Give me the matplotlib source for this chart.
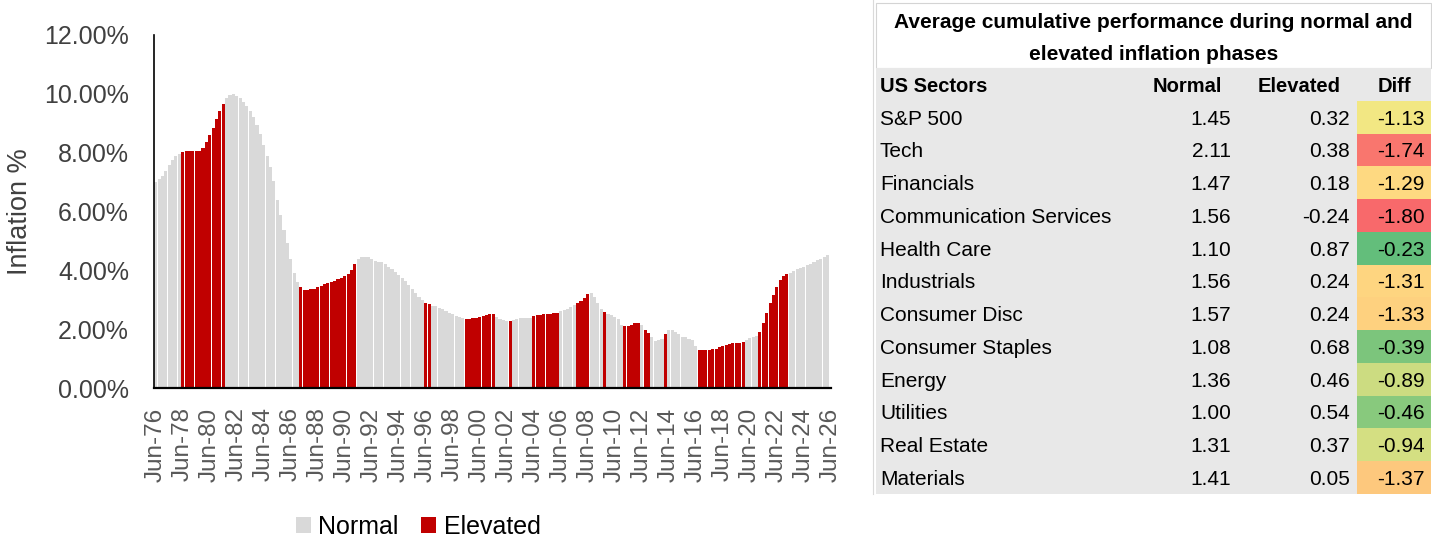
import numpy as np
import matplotlib
matplotlib.use("Agg")
import matplotlib.pyplot as plt
from matplotlib.patches import Rectangle, Patch

plt.rcParams['font.family'] = ['Liberation Sans', 'DejaVu Sans']

# ---------------- data ----------------
# quarterly inflation (%), Jun-76 .. Mar-26, one row per year (Jun, Sep, Dec, Mar)
inflation = [
    7.00, 7.10, 7.20, 7.38,   # 1976
    7.58, 7.75, 7.88, 7.97,   # 1977
    8.02, 8.04, 8.04, 8.05,   # 1978
    8.05, 8.06, 8.15, 8.35,   # 1979
    8.60, 8.85, 9.15, 9.40,   # 1980
    9.65, 9.85, 9.95, 9.98,   # 1981
    9.92, 9.85, 9.72, 9.58,   # 1982
    9.40, 9.20, 8.95, 8.65,   # 1983
    8.25, 7.90, 7.50, 7.05,   # 1984
    6.40, 5.88, 5.38, 4.92,   # 1985
    4.38, 3.92, 3.60, 3.42,   # 1986
    3.34, 3.33, 3.35, 3.36,   # 1987
    3.42, 3.47, 3.52, 3.56,   # 1988
    3.60, 3.65, 3.70, 3.75,   # 1989
    3.80, 3.88, 4.02, 4.20,   # 1990
    4.38, 4.44, 4.46, 4.45,   # 1991
    4.38, 4.33, 4.30, 4.27,   # 1992
    4.20, 4.13, 4.05, 3.95,   # 1993
    3.85, 3.75, 3.63, 3.50,   # 1994
    3.35, 3.22, 3.10, 2.98,   # 1995
    2.88, 2.86, 2.80, 2.78,   # 1996
    2.73, 2.68, 2.63, 2.56,   # 1997
    2.50, 2.44, 2.40, 2.37,   # 1998
    2.35, 2.35, 2.37, 2.39,   # 1999
    2.42, 2.45, 2.48, 2.50,   # 2000
    2.50, 2.40, 2.35, 2.30,   # 2001
    2.27, 2.28, 2.30, 2.35,   # 2002
    2.37, 2.37, 2.37, 2.38,   # 2003
    2.45, 2.48, 2.49, 2.50,   # 2004
    2.50, 2.52, 2.54, 2.56,   # 2005
    2.63, 2.66, 2.70, 2.76,   # 2006
    2.82, 2.90, 2.97, 3.05,   # 2007
    3.18, 3.22, 3.10, 2.88,   # 2008
    2.70, 2.60, 2.50, 2.48,   # 2009
    2.42, 2.33, 2.15, 2.10,   # 2010
    2.11, 2.15, 2.20, 2.22,   # 2011
    2.15, 1.98, 1.86, 1.72,   # 2012
    1.60, 1.63, 1.68, 1.82,   # 2013
    1.97, 1.97, 1.90, 1.83,   # 2014
    1.75, 1.72, 1.68, 1.62,   # 2015
    1.42, 1.30, 1.29, 1.29,   # 2016
    1.30, 1.32, 1.34, 1.38,   # 2017
    1.43, 1.47, 1.50, 1.52,   # 2018
    1.52, 1.52, 1.55, 1.63,   # 2019
    1.70, 1.74, 1.77, 1.90,   # 2020
    2.20, 2.55, 2.90, 3.15,   # 2021
    3.45, 3.68, 3.80, 3.87,   # 2022
    3.92, 3.98, 4.03, 4.08,   # 2023
    4.13, 4.17, 4.20, 4.27,   # 2024
    4.35, 4.40, 4.47, 4.53,   # 2025
]

# regime per quarter (N = normal, E = elevated), one string per year
regime_by_year = [
    "NNNN", "NNNN", "EEEE", "EEEE", "EEEE", "ENNN", "NNNN", "NNNN", "NNNN", "NNNN",  # 76-85
    "NNNE", "EEEE", "EEEE", "EEEE", "EEEE", "NNNN", "NNNN", "NNNN", "NNNN", "NNNN",  # 86-95
    "EENN", "NNNN", "NNNN", "EEEE", "EEEE", "ENNN", "NENN", "NNNN", "EEEE", "EEEE",  # 96-05
    "NNNN", "NEEE", "ENNN", "NENN", "NNNE", "EEEE", "NEEN", "NNNE", "NNNN", "NNNN",  # 06-15
    "NEEE", "EEEE", "EEEE", "EEEN", "NNNE", "EEEE", "EEEE", "NNNN", "NNNN", "NNNN",  # 16-25
]

xtick_labels = ["Jun-%02d" % (y % 100) for y in range(1976, 2027, 2)]
series_names = ["Normal", "Elevated"]

# table
table_title = ["Average cumulative performance during normal and",
               "elevated inflation phases"]
table_header = ["US Sectors", "Normal", "Elevated", "Diff"]
sectors = ["S&P 500", "Tech", "Financials", "Communication Services", "Health Care",
           "Industrials", "Consumer Disc", "Consumer Staples", "Energy", "Utilities",
           "Real Estate", "Materials"]
normal_perf = [1.45, 2.11, 1.47, 1.56, 1.10, 1.56, 1.57, 1.08, 1.36, 1.00, 1.31, 1.41]
elevated_perf = [0.32, 0.38, 0.18, -0.24, 0.87, 0.24, 0.24, 0.68, 0.46, 0.54, 0.37, 0.05]
diff_perf = [-1.13, -1.74, -1.29, -1.80, -0.23, -1.31, -1.33, -0.39, -0.89, -0.46, -0.94, -1.37]

# ---------------- figure ----------------
W, H = 1432, 539
fig = plt.figure(figsize=(W / 100, H / 100), dpi=100)
fig.patch.set_facecolor('white')

GREY = '#D9D9D9'
RED = '#C00000'

ax = fig.add_axes([154 / W, (H - 388) / H, 677 / W, 353 / H])
ax.set_zorder(2)
regime = "".join(regime_by_year)
colors = [RED if r == 'E' else GREY for r in regime]
idx = np.arange(len(inflation))
ax.bar(idx, inflation, width=0.92, color=colors, linewidth=0, antialiased=False, align='center')
ax.set_xlim(-0.5, 200.05)
ax.set_ylim(0, 12)
ax.set_yticks(np.arange(0, 12.01, 2))
ax.set_yticklabels(["%.2f%%" % v for v in np.arange(0, 12.01, 2)])
ax.set_xticks(np.arange(0, 201, 8))
ax.set_xticklabels(xtick_labels, rotation=90)
ax.tick_params(axis='y', length=0, pad=18, labelsize=18, labelcolor='#404040')
ax.tick_params(axis='x', length=0, pad=14, labelsize=17.5, labelcolor='#595959')
for s in ['top', 'right']:
    ax.spines[s].set_visible(False)
ax.spines['left'].set_linewidth(1.2)
ax.spines['bottom'].set_linewidth(1.6)
ax.spines['left'].set_color('black')
ax.spines['bottom'].set_color('black')

fig.text(20 / W, 1 - 212 / H, "Inflation %", rotation=90, ha='center', va='center',
         fontsize=19.5, color='#404040')

handles = [Patch(facecolor=GREY, edgecolor='none'), Patch(facecolor=RED, edgecolor='none')]
fig.legend(handles, series_names, loc='center', bbox_to_anchor=(418 / W, 1 - 527 / H), ncol=2,
           frameon=False, fontsize=18, handlelength=0.6, handleheight=0.6,
           handletextpad=0.3, columnspacing=0.9, borderpad=0, labelcolor='black')

# ---------------- table ----------------
tab = fig.add_axes([0, 0, 1, 1])
tab.set_zorder(0)
tab.set_xlim(0, W)
tab.set_ylim(H, 0)
tab.axis('off')
tab.patch.set_alpha(0)

x0, x1 = 876, 1431
row_h = 32.75
header_top = 68
grid_top = header_top
bottom = header_top + row_h * 13

# faint sheet gridline at left
tab.plot([873, 873], [0, bottom], color='#DADADA', lw=0.8)
# title area border
tab.add_patch(Rectangle((x0, 3), x1 - x0, header_top - 3, fc='white', ec='#D4D4D4', lw=0.8))
# grey body
tab.add_patch(Rectangle((x0, grid_top), x1 - x0, bottom - grid_top, fc='#E8E8E8', ec='none'))

# Excel-like 3-colour scale for Diff
d = np.array(diff_perf)
vmin, vmid, vmax = d.min(), np.percentile(d, 50), d.max()
c_low = np.array([248, 105, 107]) / 255
c_mid = np.array([255, 235, 132]) / 255
c_high = np.array([99, 190, 123]) / 255


def scale_color(v):
    if v <= vmid:
        f = (v - vmin) / (vmid - vmin)
        return c_low + f * (c_mid - c_low)
    f = (v - vmid) / (vmax - vmid)
    return c_mid + f * (c_high - c_mid)


dx0 = 1357
for k, v in enumerate(diff_perf):
    top = header_top + row_h * (k + 1)
    tab.add_patch(Rectangle((dx0, top), x1 - dx0, row_h, fc=scale_color(v), ec='none'))

title_fs = 15
for i, line in enumerate(table_title):
    tab.text((x0 + x1) / 2, 21 + 32 * i + 7.5, line, ha='center', va='baseline',
             fontsize=title_fs, fontweight='bold', color='black')

hb = header_top + row_h / 2 + 7.3
hfs = 14.5
tab.text(880, hb, table_header[0], ha='left', va='baseline', fontsize=hfs, fontweight='bold')
tab.text(1222, hb, table_header[1], ha='right', va='baseline', fontsize=hfs, fontweight='bold')
tab.text(1341, hb, table_header[2], ha='right', va='baseline', fontsize=hfs, fontweight='bold')
tab.text(1394, hb, table_header[3], ha='center', va='baseline', fontsize=hfs, fontweight='bold')

bfs = 15
for k in range(len(sectors)):
    yb = header_top + row_h * (k + 1) + row_h / 2 + 7.5
    tab.text(880, yb, sectors[k], ha='left', va='baseline', fontsize=bfs)
    tab.text(1231, yb, "%.2f" % normal_perf[k], ha='right', va='baseline', fontsize=bfs)
    tab.text(1350, yb, "%.2f" % elevated_perf[k], ha='right', va='baseline', fontsize=bfs)
    tab.text(1425, yb, "%.2f" % diff_perf[k], ha='right', va='baseline', fontsize=bfs)

fig.savefig("out.png", dpi=100, facecolor='white')
